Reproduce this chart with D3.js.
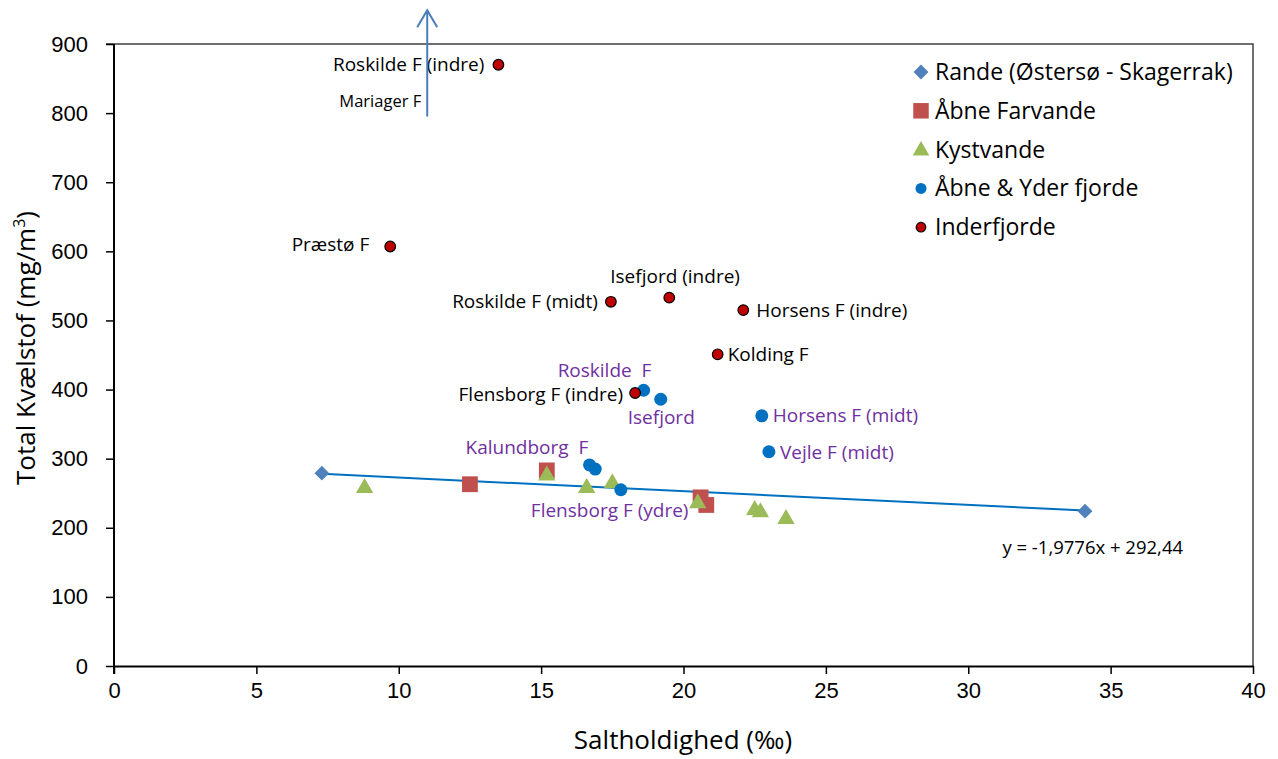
<!DOCTYPE html>
<html>
<head>
<meta charset="utf-8">
<script src="https://cdn.jsdelivr.net/npm/d3@7"></script>
<style>
  body { margin: 0; background: #fff; }
  svg { font-family: "Open Sans", "Liberation Sans", sans-serif; }
  .tick text { font-size: 22px; fill: #000; }
</style>
</head>
<body>
<div id="chart"></div>
<script>
// salinity (x) vs total nitrogen (y)
const rande = [[7.3, 279], [34.1, 224]];
const aabneFarvande = [[12.5, 263], [15.2, 283], [20.6, 244], [20.8, 233]];
const kystvande = [[8.8, 259], [15.2, 277], [16.6, 259], [17.5, 266], [20.5, 237], [22.5, 227], [22.7, 224], [23.6, 214]];
const aabneYderFjorde = [
  { name: "Roskilde  F", x: 18.6, y: 399 },
  { name: "Isefjord", x: 19.2, y: 386 },
  { name: "Horsens F (midt)", x: 22.75, y: 362 },
  { name: "Vejle F (midt)", x: 23.0, y: 310 },
  { name: "Kalundborg  F", x: 16.7, y: 291 },
  { name: "", x: 16.9, y: 285 },
  { name: "Flensborg F (ydre)", x: 17.8, y: 255 }
];
const inderfjorde = [
  { name: "Roskilde F (indre)", x: 13.5, y: 870 },
  { name: "Præstø F", x: 9.7, y: 607 },
  { name: "Roskilde F (midt)", x: 17.45, y: 527 },
  { name: "Isefjord (indre)", x: 19.5, y: 533 },
  { name: "Horsens F (indre)", x: 22.1, y: 515 },
  { name: "Kolding F", x: 21.2, y: 451 },
  { name: "Flensborg F (indre)", x: 18.3, y: 395 }
];
// Mariager F is off the scale: arrow pointing up
const mariager = { name: "Mariager F", x: 11, y0: 795, y1: 949 };
const trend = { slope: -1.9776, intercept: 292.44, from: 7.3, to: 34.1 };
const xTicks = [0, 5, 10, 15, 20, 25, 30, 35, 40];
const yTicks = [0, 100, 200, 300, 400, 500, 600, 700, 800, 900];
const legendNames = ["Rande (Østersø - Skagerrak)", "Åbne Farvande", "Kystvande", "Åbne & Yder fjorde", "Inderfjorde"];

// label placement relative to the point: [anchor, dx, dy]
const labelPos = {
  "Roskilde F (indre)": ["end", -14, 0],
  "Præstø F": ["end", -21, -2],
  "Roskilde F (midt)": ["end", -13, 0],
  "Isefjord (indre)": ["start", -59, -21],
  "Horsens F (indre)": ["start", 13, 0],
  "Kolding F": ["start", 10, 0],
  "Flensborg F (indre)": ["end", -12, 1],
  "Roskilde  F": ["start", -86, -20],
  "Isefjord": ["start", -33, 18],
  "Horsens F (midt)": ["start", 11, 0],
  "Vejle F (midt)": ["start", 11, 1],
  "Kalundborg  F": ["start", -124, -18],
  "Flensborg F (ydre)": ["start", -90, 21]
};

const W = 1278, H = 759;
const margin = { top: 44, right: 25, bottom: 93, left: 114 };
const width = 1253 - margin.left;
const height = 666 - margin.top;

const svg = d3.select("#chart").append("svg")
  .attr("width", W)
  .attr("height", H);

const g = svg.append("g")
  .attr("transform", `translate(${margin.left},${margin.top})`);

const x = d3.scaleLinear().domain([0, 40]).range([0, width]);
const y = d3.scaleLinear().domain([0, 900]).range([height, 0]);

// plot border (top/right)
g.append("path")
  .attr("d", `M-8,0H${width}V${height}`)
  .attr("fill", "none")
  .attr("stroke", "#404040")
  .attr("stroke-width", 1.5);

const xAxis = g.append("g")
  .attr("transform", `translate(0,${height})`)
  .call(d3.axisBottom(x).tickValues(xTicks).tickSize(8).tickPadding(5).tickSizeOuter(0));
const yAxis = g.append("g")
  .call(d3.axisLeft(y).tickValues(yTicks).tickSize(8).tickPadding(18).tickSizeOuter(0));
[xAxis, yAxis].forEach(a => {
  a.select(".domain").attr("stroke", "#000").attr("stroke-width", 2);
  a.selectAll(".tick line").attr("stroke", "#000").attr("stroke-width", 1.5);
  a.selectAll(".tick text").attr("fill", "#1a1a1a");
});
xAxis.selectAll(".tick text").attr("dy", "0.85em");
// y axis extends slightly below the x axis
yAxis.select(".domain").attr("d", `M0,0V${height + 8}`);

svg.append("text")
  .attr("x", 683).attr("y", 749)
  .attr("text-anchor", "middle")
  .attr("font-size", 26)
  .text("Saltholdighed (‰)");

const yt = svg.append("text")
  .attr("transform", "translate(35,348) rotate(-90)")
  .attr("text-anchor", "middle")
  .attr("font-size", 26);
yt.append("tspan").text("Total Kvælstof (mg/m");
yt.append("tspan").attr("font-size", 16).attr("dy", -10).text("3");
yt.append("tspan").attr("dy", 10).text(")");

// trendline
g.append("line")
  .attr("x1", x(trend.from)).attr("y1", y(trend.slope * trend.from + trend.intercept))
  .attr("x2", x(trend.to)).attr("y2", y(trend.slope * trend.to + trend.intercept))
  .attr("stroke", "#0070c0")
  .attr("stroke-width", 2);

const sym = {
  diamond: d3.symbol().type(d3.symbolDiamond2).size(140),
  square: d3.symbol().type(d3.symbolSquare).size(250),
  triangle: d3.symbol().type(d3.symbolTriangle).size(130)
};

g.selectAll("path.rande").data(rande).join("path")
  .attr("class", "rande")
  .attr("d", sym.diamond)
  .attr("transform", d => `translate(${x(d[0])},${y(d[1])})`)
  .attr("fill", "#4f81bd");

g.selectAll("path.farvande").data(aabneFarvande).join("path")
  .attr("class", "farvande")
  .attr("d", sym.square)
  .attr("transform", d => `translate(${x(d[0])},${y(d[1])})`)
  .attr("fill", "#c0504d");

g.selectAll("path.kyst").data(kystvande).join("path")
  .attr("class", "kyst")
  .attr("d", sym.triangle)
  .attr("transform", d => `translate(${x(d[0])},${y(d[1]) + 1})`)
  .attr("fill", "#9bbb59");

g.selectAll("circle.yder").data(aabneYderFjorde).join("circle")
  .attr("class", "yder")
  .attr("cx", d => x(d.x)).attr("cy", d => y(d.y))
  .attr("r", 6.5)
  .attr("fill", "#0070c0");

g.selectAll("circle.inder").data(inderfjorde).join("circle")
  .attr("class", "inder")
  .attr("cx", d => x(d.x)).attr("cy", d => y(d.y))
  .attr("r", 5.3)
  .attr("fill", "#c00000")
  .attr("stroke", "#000")
  .attr("stroke-width", 1.2);

// labels
function addLabels(data, color) {
  g.selectAll(null).data(data.filter(d => d.name)).join("text")
    .attr("x", d => x(d.x) + labelPos[d.name][1])
    .attr("y", d => y(d.y) + labelPos[d.name][2])
    .attr("dy", "0.35em")
    .attr("text-anchor", d => labelPos[d.name][0])
    .attr("font-size", 19)
    .attr("fill", color)
    .style("white-space", "pre")
    .text(d => d.name);
}
addLabels(inderfjorde, "#000");
addLabels(aabneYderFjorde, "#7030a0");

// Mariager arrow
const ax = x(mariager.x), ay0 = y(mariager.y0), ay1 = y(mariager.y1);
g.append("path")
  .attr("d", `M${ax},${ay0}V${ay1} M${ax - 10},${ay1 + 17}L${ax},${ay1}L${ax + 10},${ay1 + 17}`)
  .attr("fill", "none")
  .attr("stroke", "#4a7ebb")
  .attr("stroke-width", 2);
g.append("text")
  .attr("x", ax - 6).attr("y", ay0 - 15)
  .attr("dy", "0.35em")
  .attr("text-anchor", "end")
  .attr("font-size", 16.5)
  .text(mariager.name);

// equation
g.append("text")
  .attr("x", x(31.2)).attr("y", y(172))
  .attr("dy", "0.35em")
  .attr("font-size", 18.5)
  .text("y = -1,9776x + 292,44");

// legend
const legendSym = [
  d3.symbol().type(d3.symbolDiamond2).size(140)(),
  d3.symbol().type(d3.symbolSquare).size(240)(),
  d3.symbol().type(d3.symbolTriangle).size(120)(),
  null, null
];
const legendCol = ["#4f81bd", "#c0504d", "#9bbb59", "#0070c0", "#c00000"];
const leg = svg.append("g").attr("transform", "translate(921,72)");
const li = leg.selectAll("g").data(legendNames).join("g")
  .attr("transform", (d, i) => `translate(0,${i * 38.8})`);
li.each(function (d, i) {
  const s = d3.select(this);
  if (legendSym[i]) {
    s.append("path").attr("d", legendSym[i]).attr("fill", legendCol[i])
      .attr("transform", i === 2 ? "translate(0,1)" : null);
  } else {
    s.append("circle").attr("r", i === 3 ? 5.5 : 4.8).attr("fill", legendCol[i])
      .attr("stroke", i === 4 ? "#000" : "none").attr("stroke-width", 1.2);
  }
});
li.append("text")
  .attr("x", 14)
  .attr("dy", "0.35em")
  .attr("font-size", 23)
  .text(d => d);
</script>
</body>
</html>
